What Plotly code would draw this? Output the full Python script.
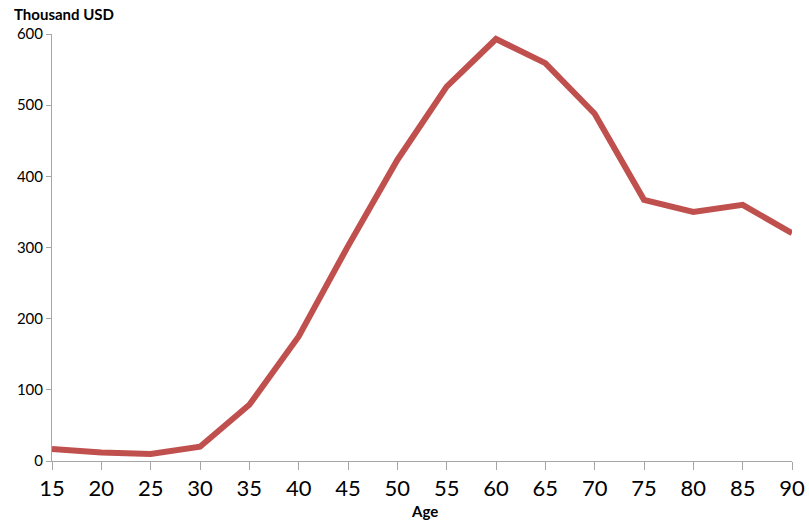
import plotly.graph_objects as go

# Age groups and average value (thousand USD)
ages = [15, 20, 25, 30, 35, 40, 45, 50, 55, 60, 65, 70, 75, 80, 85, 90]
values = [17, 12, 10, 20, 79, 175, 302, 423, 526, 593, 559, 488, 367, 350, 360, 320]
x_ticks = list(range(15, 95, 5))
y_ticks = [0, 100, 200, 300, 400, 500, 600]

axis_grey = "#A6A6A6"
font_family = "Lato, 'Open Sans', sans-serif"

fig = go.Figure()
fig.add_trace(go.Scatter(
    x=ages, y=values, mode="lines",
    line=dict(color="#C0504D", width=6),
    hoverinfo="x+y",
))

fig.update_layout(
    width=809, height=520,
    margin=dict(l=52, r=17, t=34, b=59, autoexpand=False),
    paper_bgcolor="white", plot_bgcolor="white",
    showlegend=False,
    font=dict(family=font_family, color="black"),
    xaxis=dict(
        range=[15, 90], tickvals=x_ticks, ticktext=[str(t) for t in x_ticks],
        showgrid=False, zeroline=False, showline=True, linecolor=axis_grey, linewidth=1,
        ticks="outside", ticklen=8, tickcolor=axis_grey,
        tickfont=dict(size=22), fixedrange=True, automargin=False,
    ),
    yaxis=dict(
        range=[0, 600], tickvals=y_ticks,
        showgrid=False, zeroline=False, showline=True, linecolor=axis_grey, linewidth=1,
        ticks="outside", ticklen=5, tickcolor=axis_grey,
        tickfont=dict(size=15), fixedrange=True, automargin=False,
    ),
    annotations=[
        dict(text="<b>Thousand USD</b>", xref="paper", yref="paper",
             x=(12 - 52) / 740, y=1 + 20 / 427, xanchor="left", yanchor="middle",
             showarrow=False, font=dict(size=15)),
        dict(text="<b>Age</b>", xref="paper", yref="paper",
             x=(425 - 52) / 740, y=-(511 - 461) / 427, xanchor="center", yanchor="middle",
             showarrow=False, font=dict(size=15)),
    ],
)

fig.write_html("out.html")
